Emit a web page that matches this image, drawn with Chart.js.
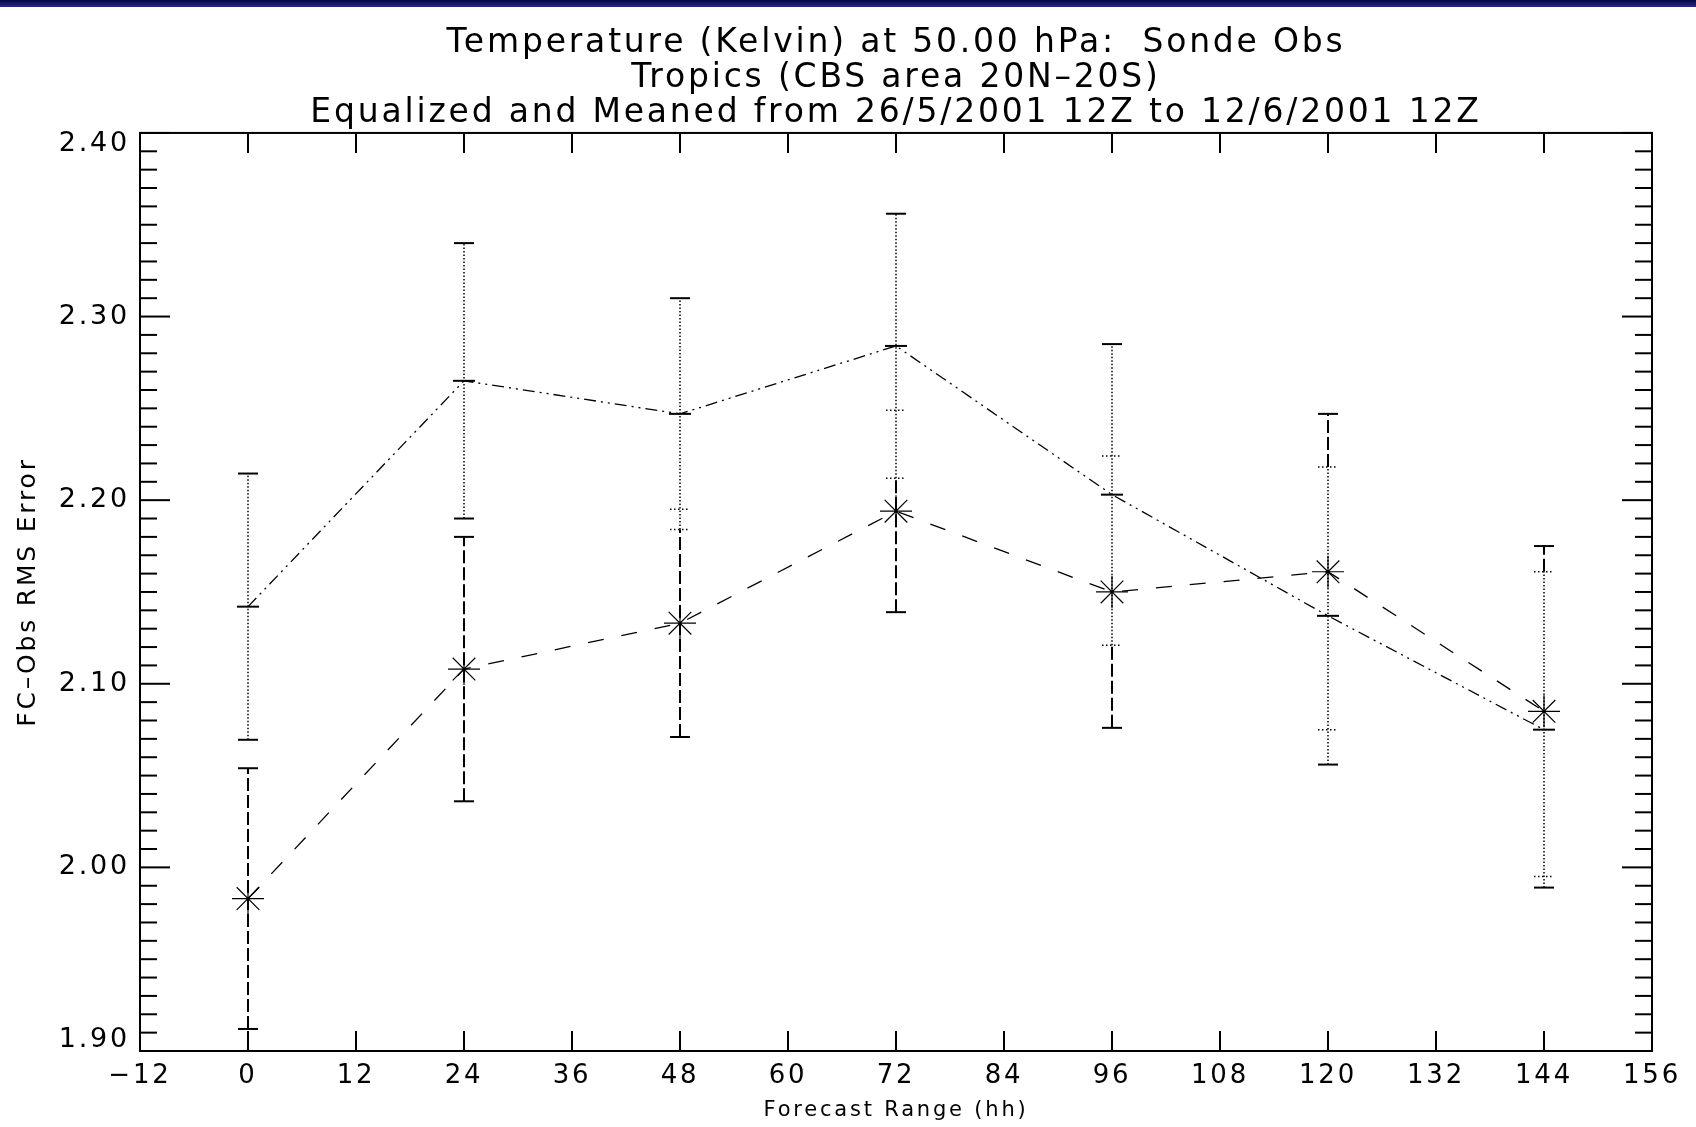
<!DOCTYPE html>
<html>
<head>
<meta charset="utf-8">
<title>Temperature (Kelvin) at 50.00 hPa: Sonde Obs</title>
<script src="https://cdn.jsdelivr.net/npm/chart.js@4.4.1/dist/chart.umd.min.js"></script>
<style>
  html, body { margin: 0; padding: 0; background: #fff; }
  #wrap { position: relative; width: 1696px; height: 1127px; }
  #topbar { position: absolute; left: 0; top: 0; width: 1696px; height: 7px; background: linear-gradient(#05054a, #2a2a88); }
</style>
</head>
<body>
<div id="wrap">
  <canvas id="rmsChart" width="1696" height="1127"></canvas>
  <div id="topbar"></div>
</div>
<script>
// forecast ranges (hh)
const hours = [0, 24, 48, 72, 96, 120, 144];
// upper curve (dash-dot line, dotted error bars)
const rmsA = [2.142, 2.265, 2.247, 2.284, 2.203, 2.137, 2.075];
const errA = [0.0725, 0.075, 0.063, 0.072, 0.082, 0.081, 0.086];
// lower curve (dashed line, asterisks, dashed error bars)
const rmsB = [1.983, 2.108, 2.133, 2.194, 2.150, 2.161, 2.085];
const errB = [0.071, 0.072, 0.062, 0.055, 0.074, 0.086, 0.090];

const titleLines = [
  'Temperature (Kelvin) at 50.00 hPa:  Sonde Obs',
  'Tropics (CBS area 20N\u201320S)',
  'Equalized and Meaned from 26/5/2001 12Z to 12/6/2001 12Z'
];

const FONT = "'DejaVu Sans', sans-serif";
const SPACING = '2.8px'; // the plotted vector font is wide, spread the letters a bit

// letter spacing only for the title and axis texts
const wideText = {
  id: 'wideText',
  beforeUpdate(chart) { chart.ctx.letterSpacing = SPACING; },
  beforeDraw(chart) { chart.ctx.letterSpacing = SPACING; },
  beforeDatasetsDraw(chart) { chart.ctx.letterSpacing = '0px'; }
};

// frame, inward ticks and error bars
const idlFrame = {
  id: 'idlFrame',
  beforeDatasetsDraw(chart) {
    const { ctx, chartArea: a, scales: { x, y } } = chart;
    ctx.save();
    ctx.strokeStyle = '#000';
    ctx.lineCap = 'butt';

    function seg(x1, y1, x2, y2, dash, w) {
      ctx.setLineDash(dash);
      ctx.lineWidth = w;
      ctx.beginPath();
      ctx.moveTo(x1, y1);
      ctx.lineTo(x2, y2);
      ctx.stroke();
    }
    function cap(px, v, dotted) {
      const py = y.getPixelForValue(v);
      if (dotted) seg(px - 10, py, px + 10, py, [1.5, 2.5], 1.5);
      else seg(px - 10, py, px + 10, py, [], 2);
    }

    hours.forEach((h, i) => {
      const px = x.getPixelForValue(h);
      const aLo = rmsA[i] - errA[i], aHi = rmsA[i] + errA[i];
      const bLo = rmsB[i] - errB[i], bHi = rmsB[i] + errB[i];
      seg(px, y.getPixelForValue(aLo), px, y.getPixelForValue(aHi), [1.5, 2], 1.5);
      if (bHi > aHi) seg(px, y.getPixelForValue(Math.max(bLo, aHi)), px, y.getPixelForValue(bHi), [13, 4], 2);
      if (bLo < aLo) seg(px, y.getPixelForValue(bLo), px, y.getPixelForValue(Math.min(bHi, aLo)), [13, 4], 2);
      const inB = v => v > bLo && v < bHi;
      const inA = v => v > aLo && v < aHi;
      cap(px, aLo, inB(aLo));
      cap(px, aHi, inB(aHi));
      cap(px, bLo, inA(bLo));
      cap(px, bHi, inA(bHi));
    });

    // ticks pointing into the plot
    y.ticks.forEach(t => {
      const py = y.getPixelForValue(t.value);
      const major = Math.round(t.value * 100) % 10 === 0;
      const len = major ? 30 : 17;
      seg(a.left, py, a.left + len, py, [], 2);
      seg(a.right, py, a.right - len, py, [], 2);
    });
    x.ticks.forEach(t => {
      const px = x.getPixelForValue(t.value);
      seg(px, a.bottom, px, a.bottom - 20, [], 2);
      seg(px, a.top, px, a.top + 20, [], 2);
    });

    ctx.setLineDash([]);
    ctx.lineWidth = 2;
    ctx.strokeRect(a.left, a.top, a.right - a.left, a.bottom - a.top);
    ctx.restore();
  }
};

new Chart(document.getElementById('rmsChart'), {
  type: 'line',
  data: {
    datasets: [
      {
        label: 'A',
        data: hours.map((h, i) => ({ x: h, y: rmsA[i] })),
        borderColor: '#000',
        backgroundColor: '#000',
        borderWidth: 1.3,
        borderDash: [12, 5, 2, 5, 2, 5],
        pointStyle: 'line',
        pointRadius: 11,
        pointBorderWidth: 2,
        pointBorderColor: '#000',
        tension: 0,
        fill: false
      },
      {
        label: 'B',
        data: hours.map((h, i) => ({ x: h, y: rmsB[i] })),
        borderColor: '#000',
        backgroundColor: '#000',
        borderWidth: 1.3,
        borderDash: [16, 18],
        pointStyle: 'star',
        pointRadius: 16,
        pointBorderWidth: 1.2,
        pointBorderColor: '#000',
        tension: 0,
        fill: false
      }
    ]
  },
  options: {
    responsive: false,
    animation: false,
    devicePixelRatio: 1,
    layout: { padding: { left: 0, right: 44, top: 0, bottom: 0 } },
    plugins: {
      legend: { display: false },
      tooltip: { enabled: false },
      title: {
        display: true,
        fullSize: false,
        text: titleLines,
        color: '#000',
        font: { family: FONT, size: 33, weight: 'normal', lineHeight: 1.06 },
        padding: { top: 26, bottom: 2 }
      }
    },
    scales: {
      x: {
        type: 'linear',
        min: -12,
        max: 156,
        grid: { display: false, drawTicks: false },
        border: { display: false },
        ticks: {
          stepSize: 12,
          autoSkip: false,
          maxRotation: 0,
          padding: 10,
          color: '#000',
          font: { family: FONT, size: 26 },
          callback: v => v < 0 ? '\u2212' + (-v) : String(v)
        },
        title: {
          display: true,
          text: 'Forecast Range (hh)',
          color: '#000',
          font: { family: FONT, size: 21 },
          padding: { top: 0, bottom: 4 }
        },
        afterFit: s => { s.height = 76; }
      },
      y: {
        type: 'linear',
        min: 1.9,
        max: 2.4,
        grid: { display: false, drawTicks: false },
        border: { display: false },
        ticks: {
          stepSize: 0.01,
          autoSkip: false,
          padding: 10,
          color: '#000',
          font: { family: FONT, size: 27, lineHeight: 0.8 },
          callback: v => {
            const k = Math.round(v * 100);
            if (k % 10 !== 0) return '';
            const s = (k / 100).toFixed(2);
            if (k === 240) return ['', s];
            if (k === 190) return [s, ''];
            return s;
          }
        },
        title: {
          display: true,
          text: 'FC\u2013Obs RMS Error',
          color: '#000',
          font: { family: FONT, size: 25 },
          padding: { top: 13, bottom: 0 }
        },
        afterFit: s => { s.width = 140; }
      }
    }
  },
  plugins: [wideText, idlFrame]
});
</script>
</body>
</html>
